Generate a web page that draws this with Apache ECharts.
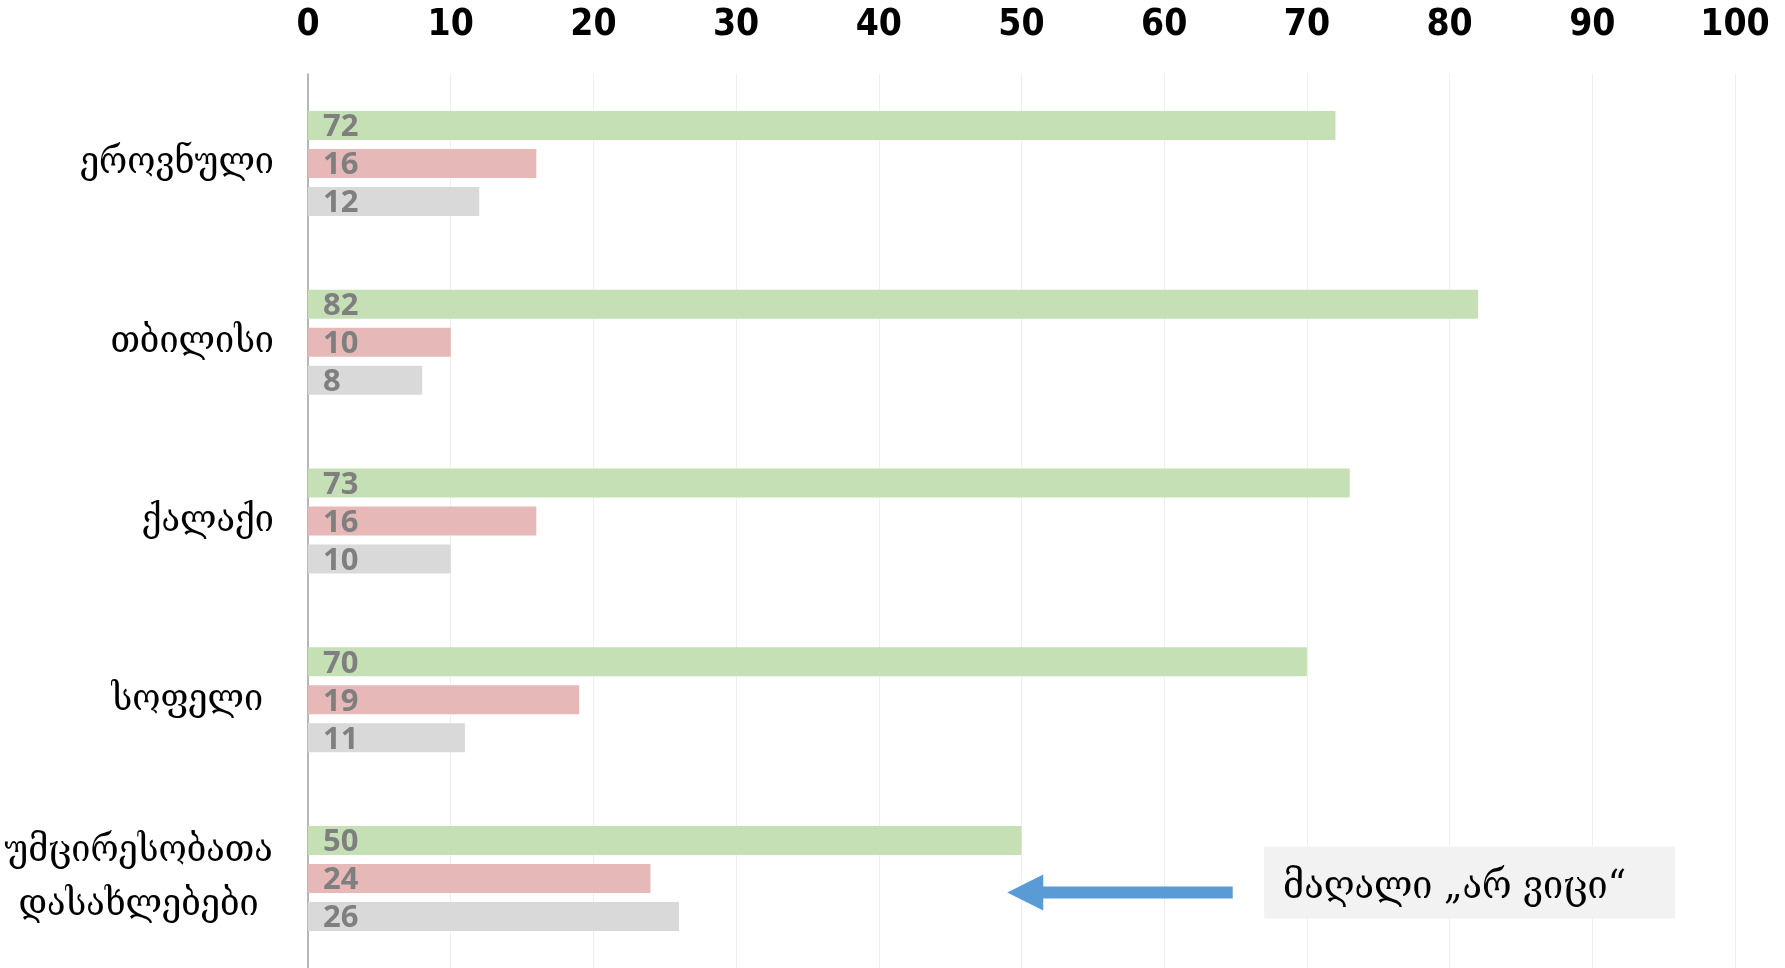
<!DOCTYPE html>
<html><head><meta charset="utf-8">
<script src="https://cdn.jsdelivr.net/npm/echarts@6/dist/echarts.min.js"></script>
<style>html,body{margin:0;padding:0;background:#fff}#c{width:1785px;height:968px}</style>
</head><body><div id="c"></div>
<script>
const categories = ['ეროვნული', 'თბილისი', 'ქალაქი', 'სოფელი ', 'უმცირესობათა\nდასახლებები'];
const seriesYes = [72, 82, 73, 70, 50];
const seriesNo = [16, 10, 16, 19, 24];
const seriesDontKnow = [12, 8, 10, 11, 26];
const xTicks = [0, 100, 10];
const annotationText = 'მაღალი „არ ვიცი“';
const arrowFromTo = [64.8, 49.0];
const annoBox = [67.0, 95.8];

const geoFont = '"DejaVu Serif Condensed","DejaVu Serif",serif';
const catFontSize = 38;
function measure(txt, size, fam) {
  const cv = document.createElement('canvas').getContext('2d');
  cv.font = size + 'px ' + fam;
  return cv.measureText(txt).width;
}
const multiW = Math.ceil(Math.max(...categories.filter(c => c.includes('\n'))
  .flatMap(c => c.split('\n')).map(s => measure(s, catFontSize, geoFont)))) + 2;

const chart = echarts.init(document.getElementById('c'));
const labelCfg = {
  show: true, position: 'insideLeft', distance: 15, offset: [0, 2],
  color: '#7f7f7f', fontWeight: 'bold', fontSize: 31, fontFamily: 'Open Sans'
};
function mk(name, data, color) {
  return { name, type: 'bar', data, barWidth: 29, barGap: '31%',
    itemStyle: { color }, label: labelCfg, silent: true };
}
chart.setOption({
  animation: false,
  grid: { left: 307, right: 50, top: 74, height: 896, containLabel: false },
  xAxis: {
    type: 'value', position: 'top', min: xTicks[0], max: xTicks[1], interval: xTicks[2],
    axisLine: { show: false }, axisTick: { show: false },
    splitLine: { lineStyle: { color: '#efefef', width: 1 } },
    axisLabel: { margin: 30, fontSize: 37, fontWeight: 'bold', color: '#000',
      fontFamily: '"Liberation Sans Narrow","DejaVu Sans Condensed","Open Sans",sans-serif' }
  },
  yAxis: {
    type: 'category', data: categories, inverse: true,
    axisLine: { show: true, lineStyle: { color: '#a0a0a0', width: 1.5 } },
    axisTick: { show: false },
    axisLabel: { margin: 34, fontSize: catFontSize, color: '#000', lineHeight: 54,
      fontFamily: geoFont,
      formatter: v => v.includes('\n') ? v.split('\n').map(s => '{c|' + s + '}').join('\n') : v,
      rich: { c: { width: multiW, align: 'center', fontSize: catFontSize, lineHeight: 54,
        fontFamily: geoFont, color: '#000' } }
    }
  },
  series: [
    mk('yes', seriesYes, '#c5e0b4'),
    mk('no', seriesNo, '#e6b8b7'),
    mk('dk', seriesDontKnow, '#d9d9d9')
  ]
});
function drawAnno() {
  const yc = chart.convertToPixel({ yAxisIndex: 0 }, categories[4]);
  const x1 = chart.convertToPixel({ xAxisIndex: 0 }, arrowFromTo[0]);
  const x0 = chart.convertToPixel({ xAxisIndex: 0 }, arrowFromTo[1]);
  const b0 = chart.convertToPixel({ xAxisIndex: 0 }, annoBox[0]);
  const b1 = chart.convertToPixel({ xAxisIndex: 0 }, annoBox[1]);
  const y = yc + 14, head = 36, hh = 18, sh = 6;
  chart.setOption({ graphic: [
    { type: 'polygon', shape: { points: [[x0, y], [x0 + head, y - hh], [x0 + head, y - sh], [x1, y - sh], [x1, y + sh], [x0 + head, y + sh], [x0 + head, y + hh]] },
      style: { fill: '#5b9bd5' } },
    { type: 'rect', shape: { x: b0, y: y - 46, width: b1 - b0, height: 72 }, style: { fill: '#f2f2f2' } },
    { type: 'text', x: b0 + 19, y: y - 5, style: { text: annotationText, fontSize: 40, fill: '#000', verticalAlign: 'middle',
      fontFamily: geoFont } }
  ]});
}
drawAnno();
</script></body></html>
